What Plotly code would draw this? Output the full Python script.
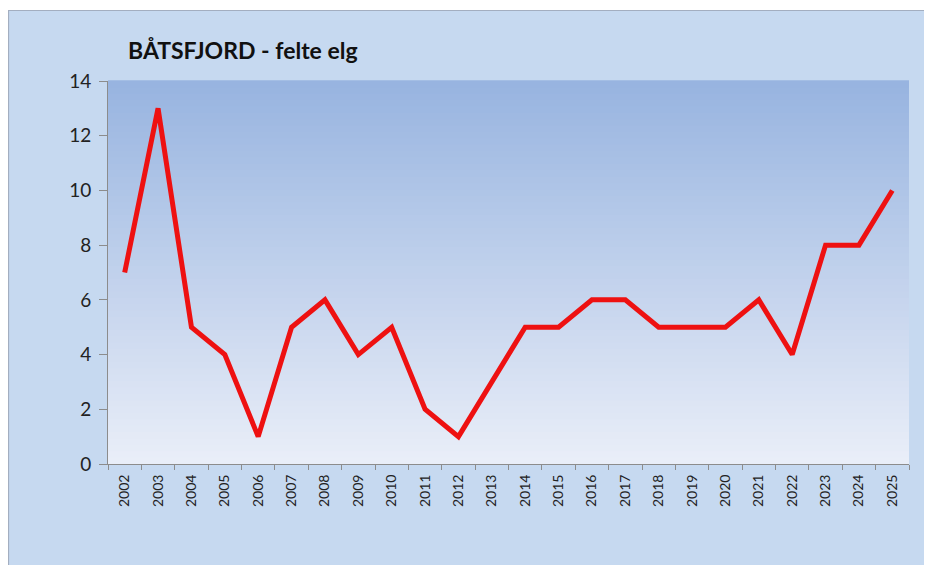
import plotly.graph_objects as go

years = [str(y) for y in range(2002, 2026)]
felte = [7, 13, 5, 4, 1, 5, 6, 4, 5, 2, 1, 3, 5, 5, 6, 6, 5, 5, 5, 6, 4, 8, 8, 10]
title_text = "BÅTSFJORD - felte elg"

W, H = 932, 565
OFF = 8  # page body margin
L, T = 108 - OFF, 81 - OFF
R = W - (909 - OFF)
B = H - (464 - OFF)
pw, ph = W - L - R, H - T - B

def px_x(p):
    return (p - OFF - L) / pw

def px_y(p):
    return (H - B - (p - OFF)) / ph

fig = go.Figure()
fig.add_trace(go.Scatter(
    x=years, y=felte, mode="lines",
    line=dict(color="#ee1111", width=5),
    hoverinfo="x+y",
))

shapes = []
# outer chart box
shapes.append(dict(type="rect", xref="paper", yref="paper",
                   x0=px_x(8.5), x1=px_x(950), y0=px_y(590), y1=px_y(10.5),
                   fillcolor="#c6d9f0", line=dict(color="#a3aec0", width=1.2),
                   layer="below"))
# gradient plot background
top = (152, 180, 224)
bot = (233, 238, 248)
n = 60
for i in range(n):
    f = i / (n - 1)
    c = tuple(round(bot[k] + (top[k] - bot[k]) * f) for k in range(3))
    shapes.append(dict(type="rect", xref="x domain", yref="y domain",
                       x0=0, x1=1, y0=i / n, y1=(i + 1) / n + 0.002,
                       fillcolor="rgb(%d,%d,%d)" % c, line=dict(width=0),
                       layer="below"))

fig.update_layout(
    width=W, height=H,
    margin=dict(l=L, r=R, t=T, b=B),
    paper_bgcolor="white",
    plot_bgcolor="rgba(0,0,0,0)",
    showlegend=False,
    shapes=shapes,
    font=dict(family="Lato, Open Sans, sans-serif", color="#222222"),
    annotations=[dict(text="<b>" + title_text + "</b>", xref="paper", yref="paper",
                      x=px_x(126), y=px_y(50), xanchor="left", yanchor="middle",
                      showarrow=False, font=dict(size=23, color="#111111",
                                                 family="Lato, Open Sans, sans-serif"))],
)
fig.update_xaxes(
    type="category", tickangle=-90, tickson="boundaries",
    ticks="outside", ticklen=5, tickcolor="#8c8c8c",
    showline=True, linecolor="#8c8c8c", linewidth=1,
    showgrid=False, tickfont=dict(size=14, color="#222222"),
    ticklabelstandoff=4,
    range=[-0.5, len(years) - 0.5],
)
fig.update_yaxes(
    range=[0, 14], dtick=2, ticks="outside", ticklen=8, tickcolor="#8c8c8c",
    showline=True, linecolor="#8c8c8c", linewidth=1,
    showgrid=False, zeroline=False, tickfont=dict(size=19, color="#222222"),
    ticklabelstandoff=4,
)

fig.write_html("out.html")
